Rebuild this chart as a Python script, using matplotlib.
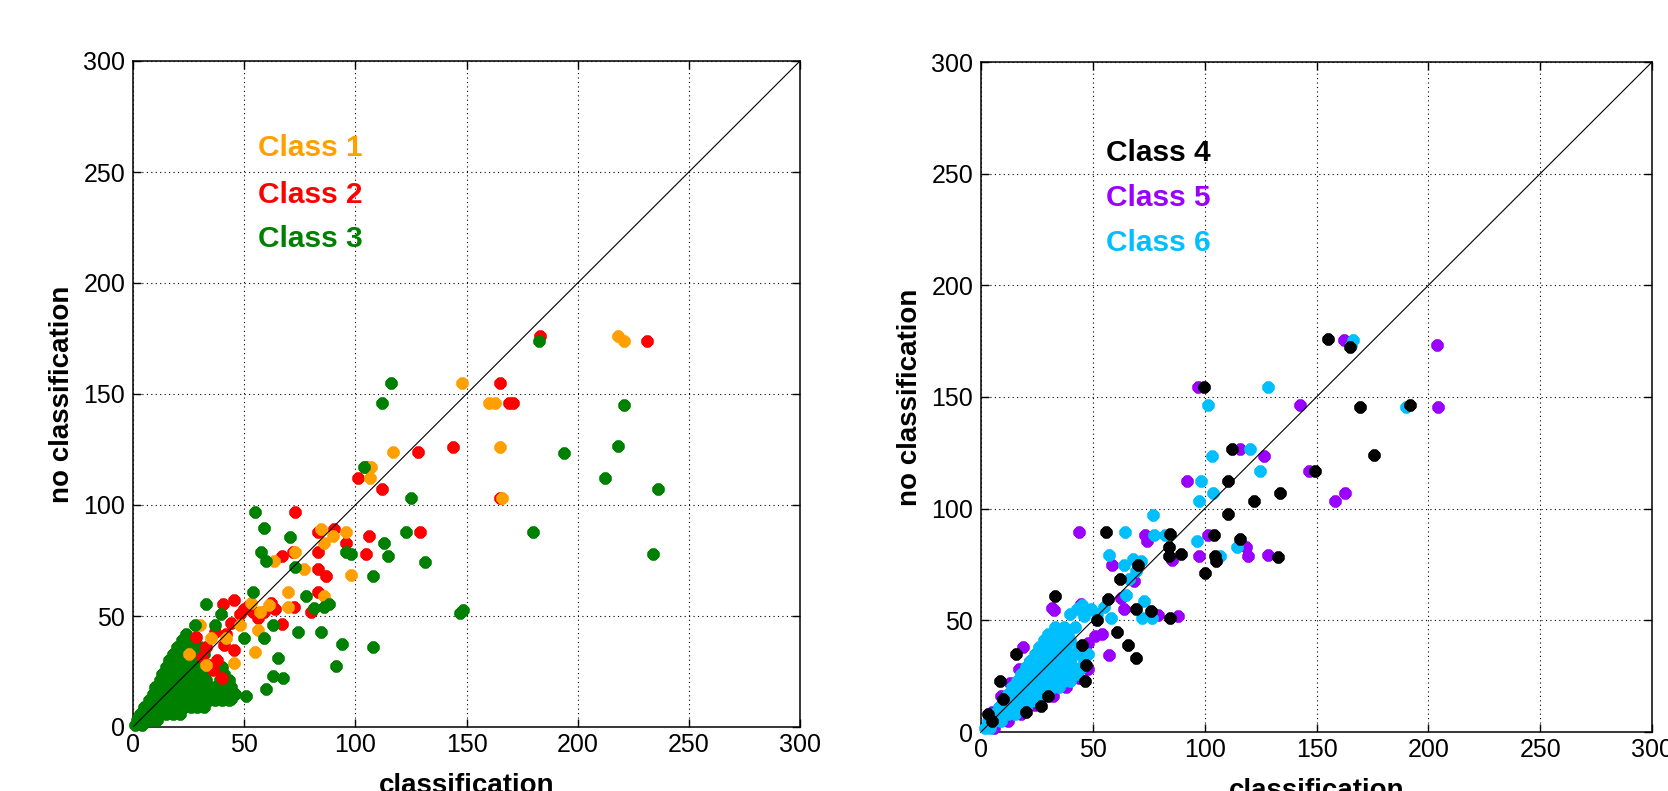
import matplotlib
matplotlib.use('Agg')
import matplotlib.pyplot as plt

plt.rcParams['font.family'] = ['Liberation Sans', 'DejaVu Sans']

# ---------------- data ----------------
ticks = [0, 50, 100, 150, 200, 250, 300]
labels_left = ['Class 1', 'Class 2', 'Class 3']
labels_right = ['Class 4', 'Class 5', 'Class 6']
colors_left = ['#FFA000', '#FF0000', '#008000']
colors_right = ['#000000', '#9A00FF', '#00BFFF']

class1_pts = [(148, 155), (218, 176), (221, 174), (160, 146), (163, 146), (165, 126),
              (117, 124), (107, 117), (106.5, 112), (166, 103), (84.5, 89), (96, 88),
              (90, 86), (86, 83), (73, 79), (63.5, 75), (77, 71), (98, 68.5), (69.5, 61),
              (86, 59), (53, 56), (69.5, 54), (30, 46), (56, 43.5), (35, 40), (45.5, 29),
              (55, 34), (25, 33), (42, 40), (48, 46), (57, 52), (61, 55), (33, 28)]

class2_pts = [(183, 176), (231, 174), (165, 155), (169, 146), (171, 146), (144, 126),
              (128, 124), (101, 112), (105, 117), (112, 107), (165, 103), (73, 97),
              (90.5, 89), (83, 88), (106, 86), (129, 88), (96, 83), (105, 78), (83, 79),
              (67, 77), (72, 79), (83, 71), (87, 68), (83, 61), (72.5, 54), (80, 52),
              (40.5, 55.5), (45.5, 57), (50, 53), (54, 52), (59, 52), (64, 53), (62, 56),
              (52, 55), (67, 46.5), (28.5, 40.5), (37, 43), (41, 37), (45.5, 34.5),
              (36, 25.5), (31, 31.5), (56, 49), (48, 51), (44, 47), (38, 30), (40, 22),
              (42, 42), (33, 36), (34, 28)]

class3_core_pts = [(1, 1), (4, 1),
                   (2, 3), (5, 3), (8, 3), (11, 3),
                   (3, 6), (6, 6), (9, 6), (12, 6), (15, 6), (18, 6), (21, 6),
                   (5, 9), (8, 9), (11, 9), (14, 9), (17, 9), (20, 9), (23, 9), (26, 9), (29, 9), (32, 9),
                   (7, 12), (10, 12), (13, 12), (16, 12), (19, 12), (22, 12), (25, 12), (28, 12),
                   (31, 12), (34, 12), (37, 12), (40, 12), (43, 12),
                   (9, 15), (12, 15), (15, 15), (18, 15), (21, 15), (24, 15), (27, 15), (30, 15),
                   (33, 15), (36, 15), (39, 15), (42, 15), (46, 15),
                   (10, 18), (13, 18), (16, 18), (19, 18), (22, 18), (25, 18), (28, 18), (31, 18),
                   (34, 18), (37, 18), (40, 18), (44, 18),
                   (12, 21), (15, 21), (18, 21), (21, 21), (24, 21), (27, 21), (30, 21), (33, 21),
                   (39, 21), (43, 21),
                   (13, 24), (16, 24), (19, 24), (22, 24), (25, 24), (28, 24), (31, 24), (41, 24),
                   (15, 27), (18, 27), (21, 27), (24, 27), (27, 27), (30, 27), (40, 27),
                   (16, 30), (19, 30), (22, 30), (25, 30), (28, 30),
                   (18, 33), (21, 33), (24, 33), (27, 33), (32, 33),
                   (20, 36), (23, 36), (26, 36), (30, 36),
                   (22, 39), (25, 39), (27, 39),
                   (24, 42)]

class3_pts = [(112, 146), (221, 145), (218, 126.5), (194, 123.5), (212.5, 112), (236, 107),
              (104, 117), (125, 103), (180, 88), (234, 78), (55, 97), (59, 89.5), (70.5, 85.5),
              (123, 88), (113, 83), (114.5, 77), (131.5, 74.5), (108, 68), (57.5, 79), (60, 75),
              (73, 72), (96, 79), (98, 78), (54, 61), (78, 59), (81.5, 53.5), (88, 55.5),
              (86, 54), (147, 51.5), (148.5, 52.5), (84.5, 43), (94, 37.5), (108, 36),
              (91.5, 27.5), (74, 43), (33, 55.5), (28, 46), (37, 46), (39.5, 51), (50, 40),
              (59, 40), (65, 31), (63, 23), (67.5, 22), (60, 17), (51, 14), (44, 12.7),
              (63, 46), (182.5, 174), (116, 155)]

class4_pts = [(155, 176), (165, 172.5), (99.8, 154.5), (169.5, 145.5), (192, 146.5),
              (112, 126.5), (175.5, 124), (149.5, 117), (110.5, 112.5), (122, 103.5),
              (133.5, 107), (110.5, 97.5), (56, 89.5), (84.5, 88.5), (104, 88), (116, 86.5),
              (84, 83), (84, 79), (89.5, 79.5), (104.5, 79), (105, 76.5), (133, 78.5),
              (70, 75), (100.3, 71), (62, 68.5), (33, 61), (57, 59.5), (69.3, 55), (75.8, 54),
              (84.6, 51.2), (61, 45), (65.5, 39), (69.3, 33), (45, 39), (46.5, 23), (15.5, 35),
              (8.6, 23), (30, 16), (27, 11.5), (47, 30), (52, 50), (5, 5), (3, 8), (10, 15),
              (20, 9)]

class5_pts = [(162.3, 175.6), (203.7, 173.5), (97, 154.5), (142.7, 146.3), (204.4, 145.5),
              (115.6, 126.5), (126.5, 123.8), (146.5, 117), (92.2, 112.3), (158.4, 103.3),
              (162.7, 107), (43.6, 89.5), (73.4, 88.3), (74, 85.6), (101.5, 88.3), (118.7, 83),
              (85.3, 77), (97.5, 78.6), (119.4, 78.6), (128.2, 79.3), (58.6, 75), (68.6, 67.7),
              (31.7, 55.7), (32.5, 54.5), (44.8, 57.2), (62.7, 60.2), (63.9, 55), (79.3, 52.4),
              (87.9, 51.9), (57.4, 34.7), (50.8, 43), (54.3, 43.7), (18.6, 38),
              (5, 9), (9, 16), (13, 22), (17, 28), (6, 2), (12, 5), (18, 8), (24, 12),
              (32, 16), (38, 20), (44, 24), (48, 28), (44, 36), (48, 40), (22, 32)]

class6_core_pts = [(2, 2), (4, 2),
                   (3, 5), (6, 5), (9, 5),
                   (6, 8), (9, 8), (12, 8), (15, 8),
                   (8, 11), (11, 11), (14, 11), (17, 11), (20, 11),
                   (10, 14), (13, 14), (16, 14), (19, 14), (22, 14), (25, 14),
                   (12, 17), (15, 17), (18, 17), (21, 17), (24, 17), (27, 17), (30, 17),
                   (14, 20), (17, 20), (20, 20), (23, 20), (26, 20), (29, 20), (32, 20), (35, 20),
                   (16, 23), (19, 23), (22, 23), (25, 23), (28, 23), (31, 23), (34, 23), (37, 23), (40, 23),
                   (18, 26), (21, 26), (24, 26), (27, 26), (30, 26), (33, 26), (36, 26), (39, 26), (43, 26),
                   (20, 29), (23, 29), (26, 29), (29, 29), (32, 29), (35, 29), (38, 29), (41, 29), (45, 29),
                   (22, 32), (25, 32), (28, 32), (31, 32), (34, 32), (37, 32), (40, 32), (46, 32),
                   (24, 35), (27, 35), (30, 35), (33, 35), (36, 35), (39, 35), (42, 35), (48, 35),
                   (26, 38), (29, 38), (32, 38), (35, 38), (38, 38), (44, 38),
                   (28, 41), (31, 41), (34, 41), (37, 41), (40, 41),
                   (30, 44), (33, 44), (36, 44), (39, 44),
                   (33, 47), (37, 47), (42, 47),
                   (40, 53), (43, 55), (46, 52), (49, 55), (52, 53), (55, 56), (58, 51), (45, 57)]

class6_pts = [(166.3, 175.6), (165.6, 173.5), (128.2, 154.5), (101.3, 146.3), (190, 145.5),
              (120.3, 126.5), (103.2, 123.8), (124.6, 117), (98.4, 112.3), (103.9, 107),
              (97.5, 103.3), (77, 97.3), (64.6, 89.5), (77.4, 88.3), (82.2, 88.3), (96.7, 85.6),
              (114.4, 83), (106.7, 79), (57.4, 79.3), (63.9, 75), (68.1, 77.4), (71.7, 76.6),
              (66.2, 68.4), (69.3, 72.2), (65, 61.4), (72.7, 58.7), (72.2, 51.2), (76.5, 51.2)]

# ---------------- figure ----------------
W, H = 1668, 791
fig = plt.figure(figsize=(W / 100, H / 100), dpi=100)
axL = fig.add_axes([133 / W, (H - 727) / H, 667 / W, 666 / H])
axR = fig.add_axes([981 / W, (H - 732) / H, 671 / W, 670 / H])

MK = dict(linestyle='none', marker=(8, 2, 0), markersize=8.5, markeredgewidth=3.2,
          clip_on=False)


def pts(ax, p, color, z):
    xs = [a for a, b in p]
    ys = [b for a, b in p]
    ax.plot(xs, ys, color=color, markeredgecolor=color, zorder=z, **MK)


def style(ax):
    ax.set_xlim(0, 300)
    ax.set_ylim(0, 300)
    ax.set_xticks(ticks)
    ax.set_yticks(ticks)
    ax.tick_params(direction='in', length=6, width=1, top=True, right=True,
                   labelsize=18, colors='black')
    ax.tick_params(axis='x', pad=4.5)
    ax.tick_params(axis='y', pad=5.5)
    ax.grid(True, color='black', linestyle=(0, (1, 3)), linewidth=0.8)
    ax.set_axisbelow(True)
    for s in ax.spines.values():
        s.set_linewidth(1.1)
    ax.set_xlabel('classification', fontsize=20, fontweight='bold', labelpad=11)
    ax.set_ylabel('no classification', fontsize=20, fontweight='bold', labelpad=6)
    ax.plot([0, 300], [0, 300], color='black', linewidth=0.8, zorder=10)


style(axL)
style(axR)

# left panel
pts(axL, class3_core_pts, colors_left[2], 3)
pts(axL, class2_pts, colors_left[1], 4)
pts(axL, class1_pts, colors_left[0], 5)
pts(axL, class3_pts, colors_left[2], 6)

# right panel
pts(axR, class5_pts, colors_right[1], 3)
pts(axR, class6_core_pts, colors_right[2], 4)
pts(axR, class6_pts, colors_right[2], 4)
pts(axR, class4_pts, colors_right[0], 5)

for lab, col, yv in zip(labels_left, colors_left, [257, 236, 216]):
    axL.text(56, yv, lab, color=col, fontsize=21.5, fontweight='bold', va='baseline')
for lab, col, yv in zip(labels_right, colors_right, [255.5, 235.5, 215.5]):
    axR.text(56, yv, lab, color=col, fontsize=21.5, fontweight='bold', va='baseline')

fig.savefig('out.png', dpi=100)
